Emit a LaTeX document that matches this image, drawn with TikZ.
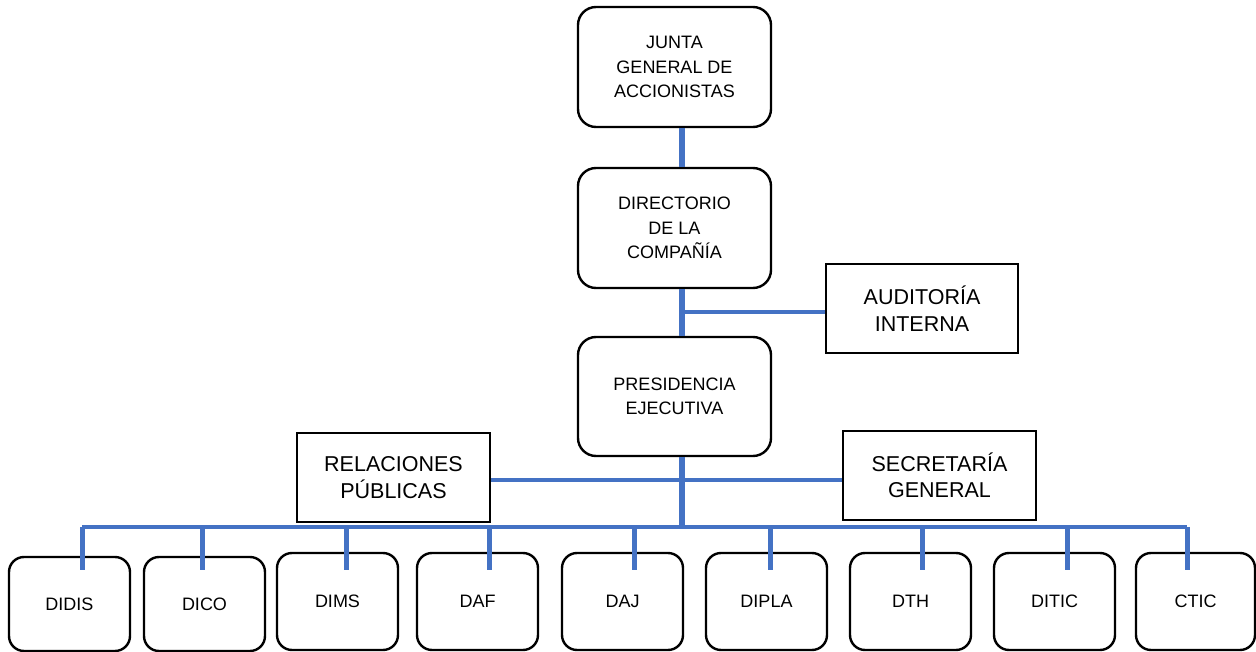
\documentclass[tikz,border=0pt]{standalone}
\usepackage{fontspec}
\setmainfont{Liberation Sans}
\begin{document}
\begin{tikzpicture}[x=1pt,y=-1pt,
  boxline/.style={draw=black,line width=2.4pt,align=center,inner sep=0pt,fill=white},
  rbox/.style={boxline,rounded corners=18pt,minimum width=193pt,minimum height=120pt,
    font=\fontsize{18}{24.5}\selectfont},
  sbox/.style={boxline,minimum width=193pt,minimum height=89pt,
    font=\fontsize{21.5}{26.5}\selectfont},
  unit/.style={boxline,rounded corners=15pt,minimum width=121pt,minimum height=97pt,
    font=\fontsize{18}{20}\selectfont},
  trunk/.style={draw={rgb,255:red,68;green,114;blue,196},line width=5.5pt},
  link/.style={draw={rgb,255:red,68;green,114;blue,196},line width=3.6pt},
  drop/.style={draw={rgb,255:red,68;green,114;blue,196},line width=5pt}]
\useasboundingbox (0,0) rectangle (1256,652);

% top of the hierarchy
\node[rbox] (junta) at (674.5,67) {JUNTA\\GENERAL DE\\ACCIONISTAS};
\node[rbox] (dir) at (674.5,228) {DIRECTORIO\\DE LA\\COMPAÑÍA};
\node[rbox,minimum height=119pt] (pres) at (674.5,396.5) {PRESIDENCIA\\EJECUTIVA};

% staff units
\node[sbox,minimum width=192pt] (aud) at (922,308.5) {AUDITORÍA\\INTERNA};
\node[sbox] (rp) at (393.5,477.5) {RELACIONES\\PÚBLICAS};
\node[sbox] (sg) at (939.5,475.5) {SECRETARÍA\\GENERAL};

% line units
\node[unit,minimum height=94pt] (didis) at (69.5,604) {DIDIS};
\node[unit,minimum height=94pt] (dico) at (204.5,604) {DICO};
\node[unit] (dims) at (337.5,601.5) {DIMS};
\node[unit] (daf) at (477.5,601.5) {DAF};
\node[unit] (daj) at (622.5,601.5) {DAJ};
\node[unit] (dipla) at (766.5,601.5) {DIPLA};
\node[unit] (dth) at (910.5,601.5) {DTH};
\node[unit] (ditic) at (1054.5,601.5) {DITIC};
\node[unit,minimum width=119pt] (ctic) at (1195.5,601.5) {CTIC};

% trunk and branch points
\coordinate (tx) at (682,0);
\coordinate (audj) at (682,312);
\coordinate (staffj) at (682,480);
\coordinate (busj) at (682,529);
\coordinate (busl) at (82,527);
\coordinate (busr) at (1187,527);

\draw[trunk] (junta.south -| tx) -- (dir.north -| tx);
\draw[trunk] (dir.south -| tx) -- (pres.north -| tx);
\draw[trunk] (pres.south -| tx) -- (busj);

\draw[link] (audj) -- (aud.west |- audj);
\draw[link] (rp.east |- staffj) -- (sg.west |- staffj);
\draw[link] (busl) -- (busr);

% drops to the line units
\foreach \u/\x in {didis/82,dico/202,dims/346,daf/489,daj/634,dipla/770,dth/922,ditic/1067,ctic/1187}{
  \coordinate (\u top) at (\x,570);
  \draw[drop] (\x,527) -- (\u top);
}
\end{tikzpicture}
\end{document}
